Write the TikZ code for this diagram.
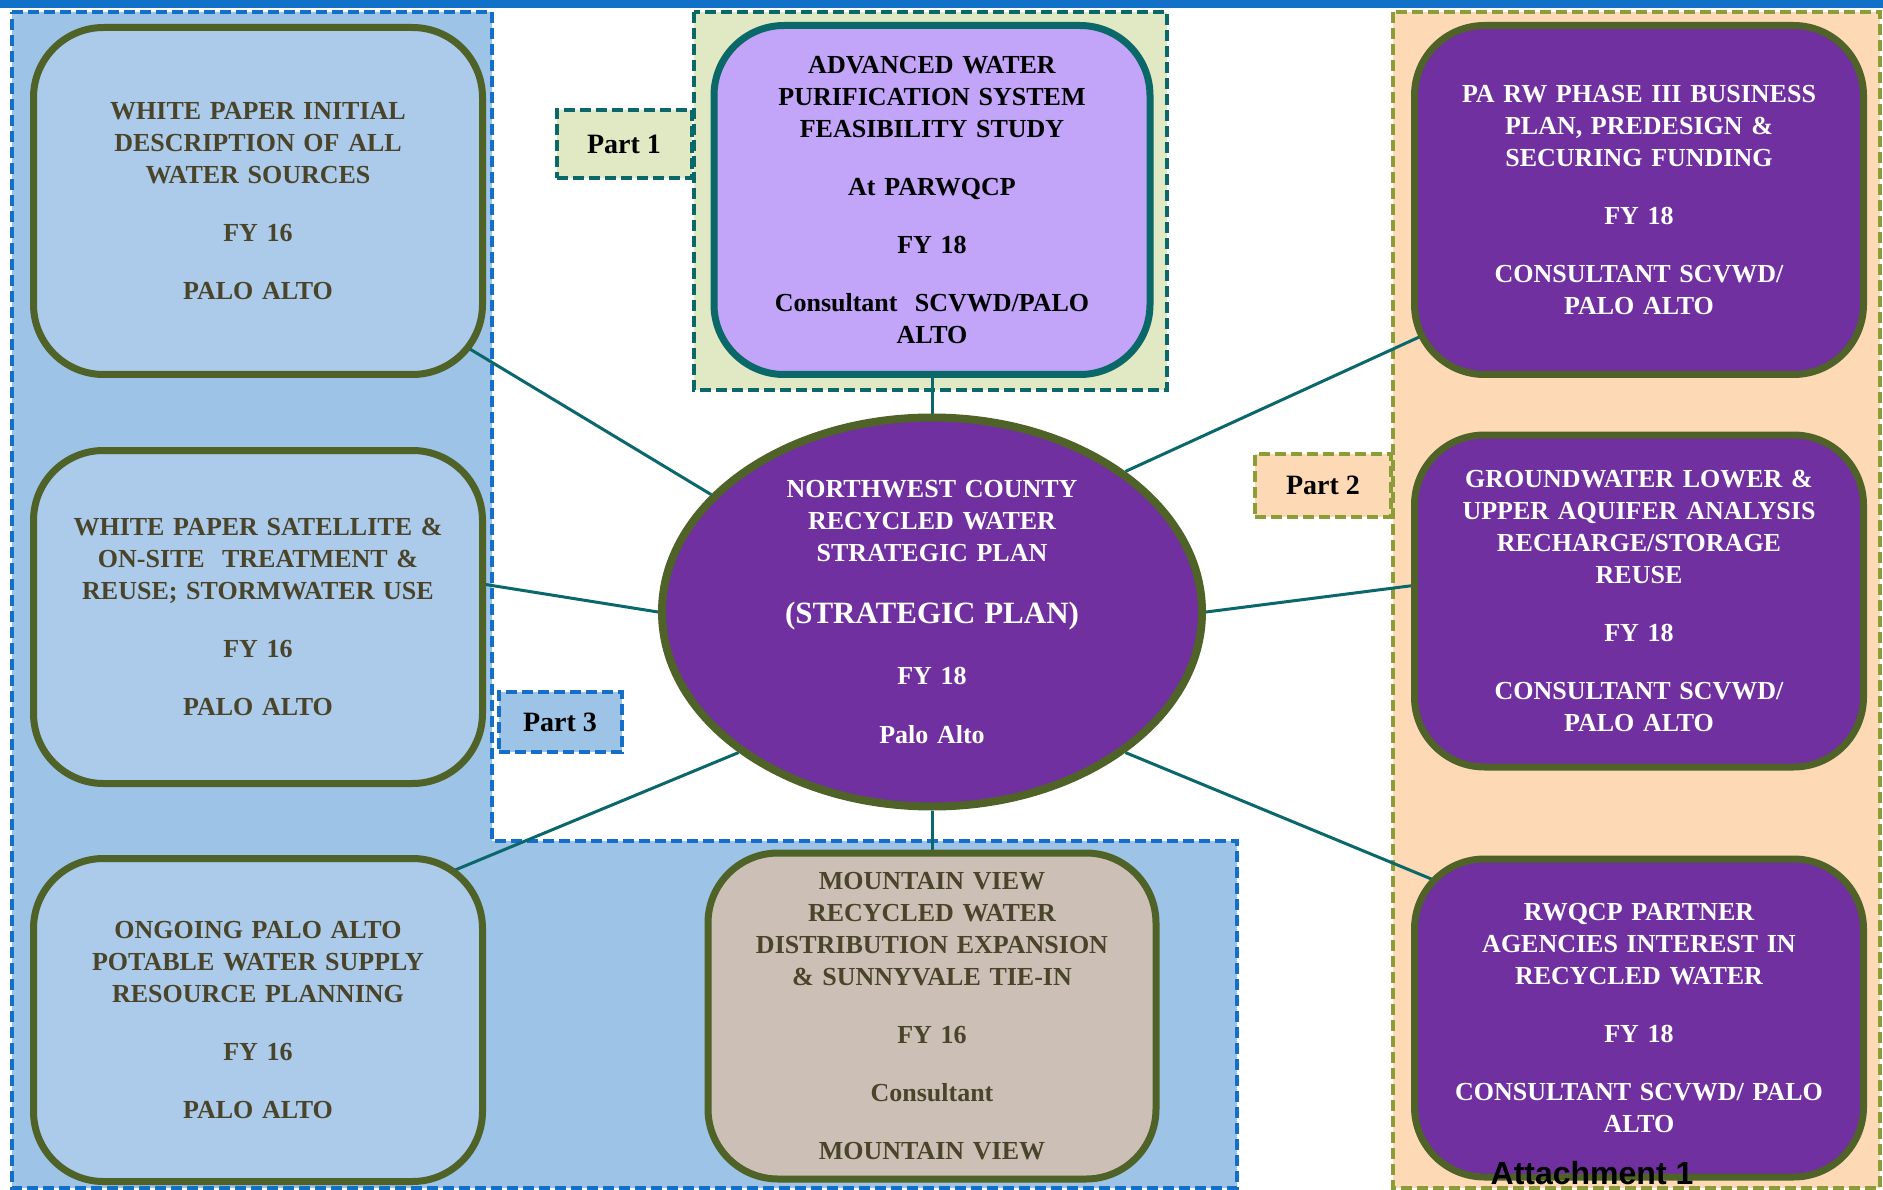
\documentclass[tikz,border=0pt]{standalone}
\usepackage{fontspec}
\setmainfont{Liberation Serif}
\newfontfamily\attachfont{Liberation Sans}
\usetikzlibrary{calc,shapes.geometric}

\definecolor{topbar}{RGB}{17,112,200}
\definecolor{zoneblue}{RGB}{157,195,230}
\definecolor{rimblue}{RGB}{21,111,198}
\definecolor{boxblue}{RGB}{172,202,234}
\definecolor{zonegreen}{RGB}{225,232,196}
\definecolor{rimteal}{RGB}{10,104,104}
\definecolor{boxlilac}{RGB}{194,164,248}
\definecolor{zonepeach}{RGB}{253,218,181}
\definecolor{rimolive}{RGB}{138,158,56}
\definecolor{boxpurple}{RGB}{112,48,160}
\definecolor{boxtan}{RGB}{204,192,182}
\definecolor{boxrim}{RGB}{79,98,40}
\definecolor{inkbrown}{RGB}{74,69,42}
\definecolor{spoketeal}{RGB}{10,104,108}

\pgfdeclarelayer{zones}
\pgfdeclarelayer{spokes}
\pgfsetlayers{zones,spokes,main}

\tikzset{
	task/.style={draw=boxrim, line width=7pt, rounded corners=70pt, inner sep=0pt, align=center, text width=430pt, font=\bfseries\fontsize{26}{32}\selectfont},
	bluetask/.style={task, fill=boxblue, text=inkbrown},
	purpletask/.style={task, fill=boxpurple, text=white},
	zone/.style={line width=4pt, dash pattern=on 11pt off 5pt},
	parttag/.style={zone, inner sep=0pt, font=\bfseries\fontsize{28}{32}\selectfont},
	spoke/.style={draw=spoketeal, line width=3pt}
}

\begin{document}
\begin{tikzpicture}[x=1pt, y=-1pt]
			%%%%% START %%%%%
			\useasboundingbox (0,0) rectangle (1883,1190);
			
			\begin{pgfonlayer}{zones}
			\fill[white] (0,0) rectangle (1883,1190);
			\fill[topbar] (0,0) rectangle (1883,8);
			\draw[zone, draw=rimblue, fill=zoneblue] (12,12) -- (492,12) -- (492,841) -- (1237,841) -- (1237,1188) -- (12,1188) -- cycle;
			\draw[zone, draw=rimteal, fill=zonegreen] (694,12) rectangle (1167,390);
			\draw[zone, draw=rimolive, fill=zonepeach] (1393,12) rectangle (1880,1188);
			\end{pgfonlayer}
			
			% left column
			\node[bluetask, minimum width=449pt, minimum height=347pt] (paper1) at (258,201) {WHITE PAPER INITIAL\\ DESCRIPTION OF ALL\\ WATER SOURCES\\[26pt] FY 16\\[26pt] PALO ALTO};
			\node[bluetask, minimum width=449pt, minimum height=333pt] (paper2) at (258,617) {WHITE PAPER SATELLITE \&\\ ON-SITE\ \ TREATMENT \&\\ REUSE; STORMWATER USE\\[26pt] FY 16\\[26pt] PALO ALTO};
			\node[bluetask, minimum width=449pt, minimum height=323pt] (supply) at (258,1020) {ONGOING PALO ALTO\\ POTABLE WATER SUPPLY\\ RESOURCE PLANNING\\[26pt] FY 16\\[26pt] PALO ALTO};
			
			% middle column
			\node[task, fill=boxlilac, draw=rimteal, text=black, minimum width=436pt, minimum height=349pt] (feasib) at (932,200) {ADVANCED WATER\\ PURIFICATION SYSTEM\\ FEASIBILITY STUDY\\[26pt] At PARWQCP\\[26pt] FY 18\\[26pt] Consultant\ \ SCVWD/PALO\\ ALTO};
			\node[ellipse, draw=boxrim, line width=8pt, fill=boxpurple, text=white, minimum width=540pt, minimum height=389pt, inner sep=0pt, align=center, text width=320pt, font=\bfseries\fontsize{26}{32}\selectfont] (hub) at (932,612) {NORTHWEST COUNTY\\ RECYCLED WATER\\ STRATEGIC PLAN\\[30pt] {\fontsize{31}{32}\selectfont (STRATEGIC PLAN)}\\[29pt] FY 18\\[27pt] Palo Alto};
			\node[task, fill=boxtan, text=inkbrown, minimum width=448pt, minimum height=326pt] (mview) at (932,1016) {MOUNTAIN VIEW\\ RECYCLED WATER\\ DISTRIBUTION EXPANSION\\ \& SUNNYVALE TIE-IN\\[26pt] FY 16\\[26pt] Consultant\\[26pt] MOUNTAIN VIEW};
			
			% right column
			\node[purpletask, minimum width=449pt, minimum height=349pt] (phase3) at (1639,200) {PA RW PHASE III BUSINESS\\ PLAN, PREDESIGN \&\\ SECURING FUNDING\\[26pt] FY 18\\[26pt] CONSULTANT SCVWD/\\ PALO ALTO};
			\node[purpletask, minimum width=449pt, minimum height=332pt] (aquifer) at (1639,601) {GROUNDWATER LOWER \&\\ UPPER AQUIFER ANALYSIS\\ RECHARGE/STORAGE\\ REUSE\\[26pt] FY 18\\[26pt] CONSULTANT SCVWD/\\ PALO ALTO};
			\node[purpletask, minimum width=449pt, minimum height=318pt] (partner) at (1639,1018) {RWQCP PARTNER\\ AGENCIES INTEREST IN\\ RECYCLED WATER\\[26pt] FY 18\\[26pt] CONSULTANT SCVWD/ PALO\\ ALTO};
			
			% part tags
			\node[parttag, draw=rimteal, fill=zonegreen, minimum width=135pt, minimum height=68pt] (part1) at (624,144) {Part 1};
			\node[parttag, draw=rimolive, fill=zonepeach, minimum width=136pt, minimum height=63pt] (part2) at (1323,485) {Part 2};
			\node[parttag, draw=rimblue, fill=zoneblue, minimum width=123pt, minimum height=60pt] (part3) at (560,722) {Part 3};
			
			\begin{pgfonlayer}{spokes}
			\draw[spoke] (feasib) -- (hub);
			\draw[spoke] (hub) -- (mview);
			\draw[spoke] ($(paper1.south east)+(-46,-47)$) -- (hub.152);
			\draw[spoke] ($(paper2.east)+(-16,-35)$) -- (hub.180);
			\draw[spoke] ($(supply.north east)+(-55,25)$) -- (hub.216);
			\draw[spoke] ($(phase3.south west)+(52,-61)$) -- (hub.36);
			\draw[spoke] ($(aquifer.west)+(14,-17)$) -- (hub.0);
			\draw[spoke] ($(partner.north west)+(53,37)$) -- (hub.324);
			\end{pgfonlayer}
			
			\node[anchor=base, inner sep=0pt, font=\attachfont\bfseries\fontsize{32}{36}\selectfont] (attach) at (1592,1184) {Attachment 1};
			%%%%% END %%%%%
\end{tikzpicture}
\end{document}
